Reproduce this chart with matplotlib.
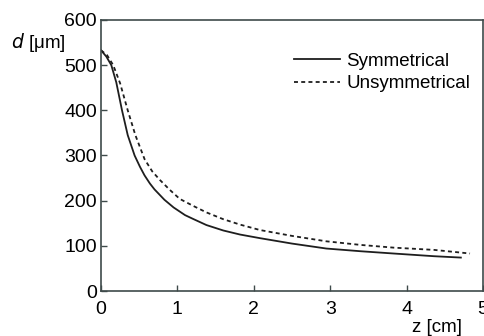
import matplotlib
matplotlib.use("Agg")
import matplotlib.pyplot as plt

# values
z_sym = [0, 0.07, 0.135, 0.2, 0.275, 0.35, 0.44, 0.51, 0.57, 0.64, 0.7, 0.83, 0.95,
         1.1, 1.2, 1.38, 1.6, 1.82, 2.08, 2.5, 2.95, 3.4, 3.83, 4.36, 4.71]
d_sym = [533, 519, 500, 462, 400, 345, 300, 275, 256, 238, 225, 202, 185,
         168, 160, 146, 134, 125, 117, 105, 94, 88, 83, 77, 74]

z_uns = [0, 0.08, 0.16, 0.25, 0.35, 0.45, 0.57, 0.67, 0.77, 0.9, 1.03, 1.2,
         1.38, 1.6, 1.82, 2.08, 2.5, 2.95, 3.4, 3.83, 4.36, 4.83]
d_uns = [533, 522, 500, 460, 400, 345, 292, 265, 246, 224, 204, 189,
         174, 159, 147, 135, 122, 110, 102, 96, 91, 83]

x_ticks = [0, 1, 2, 3, 4, 5]
y_ticks = [0, 100, 200, 300, 400, 500, 600]

plt.rcParams['font.family'] = ['Liberation Sans', 'DejaVu Sans']
spine_col = "#3e4a4a"

fig = plt.figure(figsize=(4.85, 3.36), dpi=100)
ax = fig.add_axes([101 / 485, 45 / 336, 382 / 485, 271 / 336])

ax.plot(z_sym, d_sym, color="#1e1e1e", lw=1.3, label="Symmetrical")
ax.plot(z_uns, d_uns, color="#1e1e1e", lw=1.3, dashes=(2.2, 1.8), label="Unsymmetrical")

ax.set_xlim(0, 5)
ax.set_ylim(0, 600)
ax.set_xticks(x_ticks)
ax.set_yticks(y_ticks)
ax.tick_params(direction="in", length=4, width=1, color=spine_col, labelsize=14)
ax.tick_params(axis="x", pad=7)
ax.tick_params(axis="y", pad=3)
for s in ax.spines.values():
    s.set_color(spine_col)
    s.set_linewidth(1.2)

ax.legend(loc="upper left", bbox_to_anchor=(0.505, 0.88), frameon=False,
          fontsize=13.5, handlelength=2.45, handletextpad=0.35,
          labelspacing=0.3, borderpad=0, borderaxespad=0)

fig.text(11 / 485, 1 - 43 / 336, r"$\it{d}$ [μm]", fontsize=13.5, ha="left", va="center")
fig.text(437 / 485, 1 - 328 / 336, "z [cm]", fontsize=13.5, ha="center", va="center")

fig.savefig("out.png", dpi=100)
